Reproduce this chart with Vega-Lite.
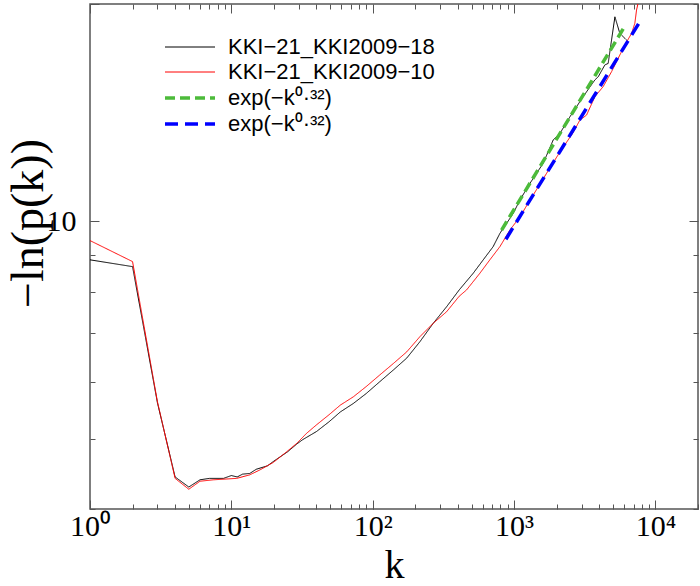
{
  "$schema": "https://vega.github.io/schema/vega-lite/v6.json",
  "width": 608,
  "height": 505,
  "autosize": "none",
  "padding": {"left": 90, "top": 4, "right": 2, "bottom": 77},
  "background": "white",
  "config": {
    "view": {"stroke": "#555", "strokeWidth": 1.5},
    "axis": {
      "domain": false, "grid": false, "tickColor": "#555", "tickWidth": 1,
      "labelFont": "Liberation Serif", "labelFontSize": 30, "labelColor": "black",
      "titleFont": "Liberation Serif", "titleFontSize": 46, "titleFontWeight": "normal", "titleColor": "black",
      "labelOverlap": false, "labelFlush": false
    },
    "legend": {
      "orient": "none", "legendX": 88, "legendY": 32, "title": null,
      "labelFont": "Liberation Sans", "labelFontSize": 22, "labelColor": "black", "labelLimit": 0,
      "symbolType": "M-2.5,0H2.5", "symbolSize": 400, "labelOffset": 26, "rowPadding": 3
    }
  },
  "datasets": {
    "curves": [
      {"series": "KKI-21_KKI2009-18", "k": 1, "y": 8.85},
      {"series": "KKI-21_KKI2009-18", "k": 2, "y": 8.66},
      {"series": "KKI-21_KKI2009-18", "k": 3, "y": 5.61},
      {"series": "KKI-21_KKI2009-18", "k": 4, "y": 4.43},
      {"series": "KKI-21_KKI2009-18", "k": 5, "y": 4.29},
      {"series": "KKI-21_KKI2009-18", "k": 6, "y": 4.39},
      {"series": "KKI-21_KKI2009-18", "k": 7, "y": 4.41},
      {"series": "KKI-21_KKI2009-18", "k": 8.8, "y": 4.41},
      {"series": "KKI-21_KKI2009-18", "k": 10, "y": 4.45},
      {"series": "KKI-21_KKI2009-18", "k": 11, "y": 4.43},
      {"series": "KKI-21_KKI2009-18", "k": 12, "y": 4.47},
      {"series": "KKI-21_KKI2009-18", "k": 13.5, "y": 4.48},
      {"series": "KKI-21_KKI2009-18", "k": 15, "y": 4.54},
      {"series": "KKI-21_KKI2009-18", "k": 18, "y": 4.59},
      {"series": "KKI-21_KKI2009-18", "k": 20, "y": 4.66},
      {"series": "KKI-21_KKI2009-18", "k": 25, "y": 4.8},
      {"series": "KKI-21_KKI2009-18", "k": 29, "y": 4.92},
      {"series": "KKI-21_KKI2009-18", "k": 32, "y": 4.99},
      {"series": "KKI-21_KKI2009-18", "k": 40, "y": 5.12},
      {"series": "KKI-21_KKI2009-18", "k": 49, "y": 5.28},
      {"series": "KKI-21_KKI2009-18", "k": 59, "y": 5.45},
      {"series": "KKI-21_KKI2009-18", "k": 73, "y": 5.6},
      {"series": "KKI-21_KKI2009-18", "k": 90, "y": 5.78},
      {"series": "KKI-21_KKI2009-18", "k": 112, "y": 6.0},
      {"series": "KKI-21_KKI2009-18", "k": 140, "y": 6.23},
      {"series": "KKI-21_KKI2009-18", "k": 174, "y": 6.47},
      {"series": "KKI-21_KKI2009-18", "k": 216, "y": 6.82},
      {"series": "KKI-21_KKI2009-18", "k": 268, "y": 7.23},
      {"series": "KKI-21_KKI2009-18", "k": 333, "y": 7.62},
      {"series": "KKI-21_KKI2009-18", "k": 409, "y": 8.04},
      {"series": "KKI-21_KKI2009-18", "k": 514, "y": 8.48},
      {"series": "KKI-21_KKI2009-18", "k": 605, "y": 8.85},
      {"series": "KKI-21_KKI2009-18", "k": 711, "y": 9.23},
      {"series": "KKI-21_KKI2009-18", "k": 794, "y": 9.63},
      {"series": "KKI-21_KKI2009-18", "k": 885, "y": 9.94},
      {"series": "KKI-21_KKI2009-18", "k": 986, "y": 10.26},
      {"series": "KKI-21_KKI2009-18", "k": 1100, "y": 10.71},
      {"series": "KKI-21_KKI2009-18", "k": 1294, "y": 11.29},
      {"series": "KKI-21_KKI2009-18", "k": 1607, "y": 12.04},
      {"series": "KKI-21_KKI2009-18", "k": 1892, "y": 12.97},
      {"series": "KKI-21_KKI2009-18", "k": 2110, "y": 13.24},
      {"series": "KKI-21_KKI2009-18", "k": 2483, "y": 13.96},
      {"series": "KKI-21_KKI2009-18", "k": 3083, "y": 14.89},
      {"series": "KKI-21_KKI2009-18", "k": 3726, "y": 15.7},
      {"series": "KKI-21_KKI2009-18", "k": 3937, "y": 15.86},
      {"series": "KKI-21_KKI2009-18", "k": 4387, "y": 16.47},
      {"series": "KKI-21_KKI2009-18", "k": 4630, "y": 16.55},
      {"series": "KKI-21_KKI2009-18", "k": 5167, "y": 19.2},
      {"series": "KKI-21_KKI2009-18", "k": 5600, "y": 18.21},
      {"series": "KKI-21_KKI2009-18", "k": 6250, "y": 17.83},
      {"series": "KKI-21_KKI2009-10", "k": 1, "y": 9.41},
      {"series": "KKI-21_KKI2009-10", "k": 2, "y": 8.8},
      {"series": "KKI-21_KKI2009-10", "k": 3, "y": 5.63},
      {"series": "KKI-21_KKI2009-10", "k": 4, "y": 4.41},
      {"series": "KKI-21_KKI2009-10", "k": 5, "y": 4.26},
      {"series": "KKI-21_KKI2009-10", "k": 6, "y": 4.37},
      {"series": "KKI-21_KKI2009-10", "k": 7.45, "y": 4.39},
      {"series": "KKI-21_KKI2009-10", "k": 10.9, "y": 4.41},
      {"series": "KKI-21_KKI2009-10", "k": 13.5, "y": 4.46},
      {"series": "KKI-21_KKI2009-10", "k": 15.9, "y": 4.53},
      {"series": "KKI-21_KKI2009-10", "k": 19.8, "y": 4.64},
      {"series": "KKI-21_KKI2009-10", "k": 24.6, "y": 4.8},
      {"series": "KKI-21_KKI2009-10", "k": 29, "y": 4.93},
      {"series": "KKI-21_KKI2009-10", "k": 34, "y": 5.09},
      {"series": "KKI-21_KKI2009-10", "k": 40, "y": 5.23},
      {"series": "KKI-21_KKI2009-10", "k": 49, "y": 5.4},
      {"series": "KKI-21_KKI2009-10", "k": 59, "y": 5.57},
      {"series": "KKI-21_KKI2009-10", "k": 73, "y": 5.72},
      {"series": "KKI-21_KKI2009-10", "k": 90, "y": 5.91},
      {"series": "KKI-21_KKI2009-10", "k": 112, "y": 6.13},
      {"series": "KKI-21_KKI2009-10", "k": 140, "y": 6.36},
      {"series": "KKI-21_KKI2009-10", "k": 174, "y": 6.6},
      {"series": "KKI-21_KKI2009-10", "k": 216, "y": 6.93},
      {"series": "KKI-21_KKI2009-10", "k": 268, "y": 7.23},
      {"series": "KKI-21_KKI2009-10", "k": 333, "y": 7.5},
      {"series": "KKI-21_KKI2009-10", "k": 409, "y": 7.88},
      {"series": "KKI-21_KKI2009-10", "k": 461, "y": 8.04},
      {"series": "KKI-21_KKI2009-10", "k": 573, "y": 8.48},
      {"series": "KKI-21_KKI2009-10", "k": 674, "y": 8.85},
      {"series": "KKI-21_KKI2009-10", "k": 794, "y": 9.23},
      {"series": "KKI-21_KKI2009-10", "k": 934, "y": 9.73},
      {"series": "KKI-21_KKI2009-10", "k": 1100, "y": 10.15},
      {"series": "KKI-21_KKI2009-10", "k": 1294, "y": 10.7},
      {"series": "KKI-21_KKI2009-10", "k": 1522, "y": 11.26},
      {"series": "KKI-21_KKI2009-10", "k": 1791, "y": 11.86},
      {"series": "KKI-21_KKI2009-10", "k": 2110, "y": 12.48},
      {"series": "KKI-21_KKI2009-10", "k": 2606, "y": 13.26},
      {"series": "KKI-21_KKI2009-10", "k": 2918, "y": 13.81},
      {"series": "KKI-21_KKI2009-10", "k": 3258, "y": 14.04},
      {"series": "KKI-21_KKI2009-10", "k": 3726, "y": 14.88},
      {"series": "KKI-21_KKI2009-10", "k": 4266, "y": 15.37},
      {"series": "KKI-21_KKI2009-10", "k": 4893, "y": 16.12},
      {"series": "KKI-21_KKI2009-10", "k": 5600, "y": 17.0},
      {"series": "KKI-21_KKI2009-10", "k": 6250, "y": 17.72},
      {"series": "KKI-21_KKI2009-10", "k": 6776, "y": 18.21},
      {"series": "KKI-21_KKI2009-10", "k": 7150, "y": 18.81},
      {"series": "KKI-21_KKI2009-10", "k": 7350, "y": 19.62},
      {"series": "KKI-21_KKI2009-10", "k": 7630, "y": 20.26},
      {"series": "KKI-21_KKI2009-10", "k": 7890, "y": 20.92},
      {"series": "fit KKI2009-18", "k": 816, "y": 9.73},
      {"series": "fit KKI2009-18", "k": 6140, "y": 18.7},
      {"series": "fit KKI2009-10", "k": 875, "y": 9.45},
      {"series": "fit KKI2009-10", "k": 7670, "y": 18.84}
    ]
  },
  "data": {"name": "curves"},
  "resolve": {"axis": {"x": "independent", "y": "independent"}},
  "layer": [
    {
      "mark": {"type": "line", "clip": true},
      "encoding": {
        "x": {
          "field": "k", "type": "quantitative",
          "scale": {"type": "log", "domain": [1, 20000], "nice": false},
          "title": "k",
          "axis": {
            "orient": "bottom",
            "values": [1,2,3,4,5,6,7,8,9,10,20,30,40,50,60,70,80,90,100,200,300,400,500,600,700,800,900,1000,2000,3000,4000,5000,6000,7000,8000,9000,10000,20000],
            "labelExpr": "datum.value == 1 ? '10⁰' : datum.value == 10 ? '10¹' : datum.value == 100 ? '10²' : datum.value == 1000 ? '10³' : datum.value == 10000 ? '10⁴' : ''",
            "tickSize": -5,
            "labelPadding": 7,
            "titleFontSize": 40,
            "titleY": 68,
            "titleBaseline": "alphabetic"
          }
        },
        "y": {
          "field": "y", "type": "quantitative",
          "scale": {"type": "log", "domain": [4, 20], "nice": false},
          "title": "−ln(p(k))",
          "axis": {
            "orient": "left",
            "values": [4,5,6,7,8,9,10,20],
            "labelExpr": "datum.value == 10 ? '10' : ''",
            "tickSize": -5,
            "labelPadding": 19,
            "titleX": -48,
            "titleY": 219,
            "titleBaseline": "alphabetic"
          }
        },
        "color": {
          "field": "series", "type": "nominal",
          "scale": {
            "domain": ["KKI-21_KKI2009-18", "KKI-21_KKI2009-10", "fit KKI2009-18", "fit KKI2009-10"],
            "range": ["#000000", "#ff0000", "#4cbb3a", "#0000ff"]
          },
          "legend": {
            "labelExpr": "datum.label == 'KKI-21_KKI2009-18' ? 'KKI−21_KKI2009−18' : datum.label == 'KKI-21_KKI2009-10' ? 'KKI−21_KKI2009−10' : 'exp(−k⁰·³²)'",
            "encode": {
              "symbols": {
                "update": {
                  "strokeWidth": {"signal": "indexof(datum.value, 'fit') == 0 ? 3.5 : 1"},
                  "strokeDash": {"signal": "datum.value == 'fit KKI2009-18' ? [10, 5] : datum.value == 'fit KKI2009-10' ? [13, 7] : [1, 0]"}
                }
              }
            }
          }
        },
        "strokeDash": {
          "field": "series", "type": "nominal",
          "scale": {
            "domain": ["KKI-21_KKI2009-18", "KKI-21_KKI2009-10", "fit KKI2009-18", "fit KKI2009-10"],
            "range": [[1, 0], [1, 0], [10, 5], [13, 7]]
          },
          "legend": null
        },
        "strokeWidth": {
          "field": "series", "type": "nominal",
          "scale": {
            "type": "ordinal",
            "domain": ["KKI-21_KKI2009-18", "KKI-21_KKI2009-10", "fit KKI2009-18", "fit KKI2009-10"],
            "range": [1, 1, 3.5, 3.5]
          },
          "legend": null
        }
      }
    },
    {
      "mark": {"type": "line", "opacity": 0},
      "encoding": {
        "x": {
          "field": "k", "type": "quantitative",
          "axis": {
            "orient": "top", "title": null, "labels": false,
            "values": [1,2,3,4,5,6,7,8,9,10,20,30,40,50,60,70,80,90,100,200,300,400,500,600,700,800,900,1000,2000,3000,4000,5000,6000,7000,8000,9000,10000,20000],
            "tickSize": {"condition": {"test": "indexof([1,10,100,1000,10000], datum.value) >= 0", "value": -9}, "value": -5}
          }
        },
        "y": {
          "field": "y", "type": "quantitative",
          "axis": {
            "orient": "right", "title": null, "labels": false,
            "values": [4,5,6,7,8,9,10,20],
            "tickSize": {"condition": {"test": "datum.value == 10", "value": -9}, "value": -5}
          }
        },
        "detail": {"field": "series", "type": "nominal"}
      }
    },
    {
      "mark": {"type": "line", "opacity": 0},
      "encoding": {
        "x": {
          "field": "k", "type": "quantitative",
          "axis": {
            "orient": "bottom", "title": null, "labels": false,
            "values": [1, 10, 100, 1000, 10000],
            "tickSize": -9
          }
        },
        "y": {
          "field": "y", "type": "quantitative",
          "axis": {
            "orient": "left", "title": null, "labels": false,
            "values": [10, 20],
            "tickSize": -9
          }
        },
        "detail": {"field": "series", "type": "nominal"}
      }
    }
  ]
}
